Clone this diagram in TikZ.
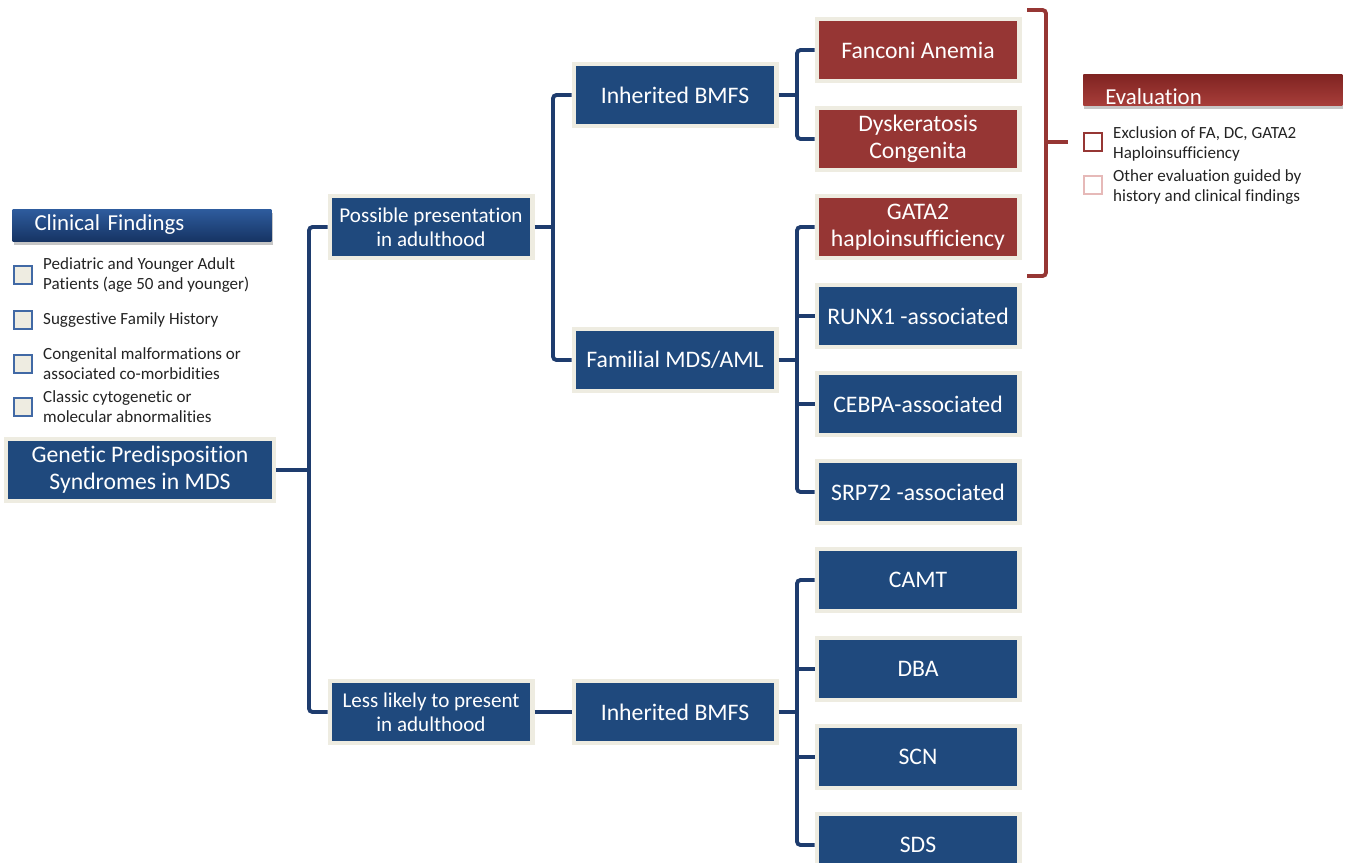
\documentclass[tikz,border=0pt]{standalone}
\usepackage{fontspec}
\setmainfont{Carlito}[Ligatures={NoCommon}]
\usetikzlibrary{shadows}

\definecolor{boxblue}{RGB}{31,73,125}
\definecolor{boxred}{RGB}{150,54,52}
\definecolor{cream}{RGB}{238,236,225}
\definecolor{linenavy}{RGB}{30,60,110}
\definecolor{tickblue}{RGB}{65,105,165}
\definecolor{pinkline}{RGB}{230,185,184}
\definecolor{txtgray}{RGB}{35,35,35}

\tikzset{
  bluebox/.style={draw=cream, line width=2.3pt, fill=boxblue, text=white,
    minimum width=4.06cm, minimum height=1.24cm, align=center,
    font=\fontsize{13.5}{15.5}\selectfont},
  redbox/.style={bluebox, fill=boxred},
  midbox/.style={bluebox, font=\fontsize{12}{13.6}\selectfont},
  tree/.style={draw=linenavy, line width=2.2pt, rounded corners=2pt},
  bracket/.style={draw=boxred, line width=2.2pt, rounded corners=2pt},
  headbox/.style={text=white, text width=4.3cm, inner xsep=0.44cm, align=left,
    font=\fontsize{13}{15}\selectfont,
    drop shadow={opacity=0.45, shadow xshift=0.6pt, shadow yshift=-2pt}},
  cbox/.style={draw=tickblue, fill=cream, line width=1.2pt, minimum size=0.37cm, inner sep=0pt},
  redcbox/.style={cbox, draw=boxred, fill=white},
  pinkcbox/.style={cbox, draw=pinkline, fill=white},
  small/.style={text=txtgray, align=left, anchor=west,
    font=\fontsize{9.7}{11.3}\selectfont}
}

\begin{document}
\begin{tikzpicture}[x=0.02cm, y=-0.02cm]
\useasboundingbox (0,0) rectangle (1347,863);

% headers and check lists
\node[headbox, top color={rgb,255:red,46;green,92;blue,158}, bottom color={rgb,255:red,22;green,52;blue,100},
  minimum height=0.64cm] at (142,225) (cf) {Clinical Findings};
\node[cbox] at (23,275) (c1) {};
\node[small] at (37,275) (t1) {Pediatric and Younger Adult\\Patients (age 50 and younger)};
\node[cbox] at (23,320) (c2) {};
\node[small] at (37,320) (t2) {Suggestive Family History};
\node[cbox] at (23,364) (c3) {};
\node[small] at (37,364) (t3) {Congenital malformations or\\associated co-morbidities};
\node[cbox] at (23,407) (c4) {};
\node[small] at (37,407) (t4) {Classic cytogenetic or\\molecular abnormalities};

\node[headbox, top color={rgb,255:red,128;green,36;blue,34}, bottom color={rgb,255:red,168;green,62;blue,58},
  anchor=south west, inner ysep=0.5pt, text height=0.58cm, text depth=0pt] at (1083,106) (ev) {Evaluation};
\node[redcbox] at (1093,142) (e1) {};
\node[small] at (1107,144) (et1) {Exclusion of FA, DC, GATA2\\Haploinsufficiency};
\node[pinkcbox] at (1093,185) (e2) {};
\node[small] at (1107,187) (et2) {Other evaluation guided by\\history and clinical findings};

% tree boxes
\node[bluebox, minimum width=5.38cm] at (140,470) (gps) {Genetic Predisposition\\Syndromes in MDS};
\node[midbox] at (431,227) (poss) {Possible presentation\\in adulthood};
\node[midbox] at (431,712) (less) {Less likely to present\\in adulthood};
\node[bluebox] at (675,95) (inh1) {Inherited BMFS};
\node[bluebox] at (675,360) (fam) {Familial MDS/AML};
\node[bluebox] at (675,712) (inh2) {Inherited BMFS};
\node[redbox] at (918,50) (fa) {Fanconi Anemia};
\node[redbox] at (918,139) (dc) {Dyskeratosis\\Congenita};
\node[redbox] at (918,227) (gata) {GATA2\\haploinsufficiency};
\node[bluebox] at (918,316) (runx) {RUNX1 -associated};
\node[bluebox] at (918,404) (cebpa) {CEBPA-associated};
\node[bluebox] at (918,492) (srp) {SRP72 -associated};
\node[bluebox] at (918,580) (camt) {CAMT};
\node[bluebox] at (918,669) (dba) {DBA};
\node[bluebox] at (918,757) (scn) {SCN};
\node[bluebox] at (918,845) (sds) {SDS};

% junctions
\coordinate (j0) at (309,470);
\coordinate (j1) at (553,227);
\coordinate (j2) at (797,95);
\coordinate (j3) at (797,360);
\coordinate (j4) at (797,712);

\draw[tree] (gps.east) -- (j0);
\draw[tree] (poss.west) -| (j0) |- (less.west);
\draw[tree] (poss.east) -- (j1);
\draw[tree] (inh1.west) -| (j1) |- (fam.west);
\draw[tree] (less.east) -- (inh2.west);
\draw[tree] (inh1.east) -- (j2);
\draw[tree] (fa.west) -| (j2) |- (dc.west);
\draw[tree] (fam.east) -- (j3);
\draw[tree] (gata.west) -| (j3) |- (srp.west);
\draw[tree] (runx.west) -- (runx.west -| j3);
\draw[tree] (cebpa.west) -- (cebpa.west -| j3);
\draw[tree] (inh2.east) -- (j4);
\draw[tree] (camt.west) -| (j4) |- (sds.west);
\draw[tree] (dba.west) -- (dba.west -| j4);
\draw[tree] (scn.west) -- (scn.west -| j4);

% red bracket
\coordinate (bt) at (1027,10);
\coordinate (bb) at (1027,276);
\coordinate (bm) at (1046,142);
\coordinate (btip) at (1068,142);
\draw[bracket] (bt) -| (bm) |- (bb);
\draw[bracket] (bm) -- (btip);
\end{tikzpicture}
\end{document}
